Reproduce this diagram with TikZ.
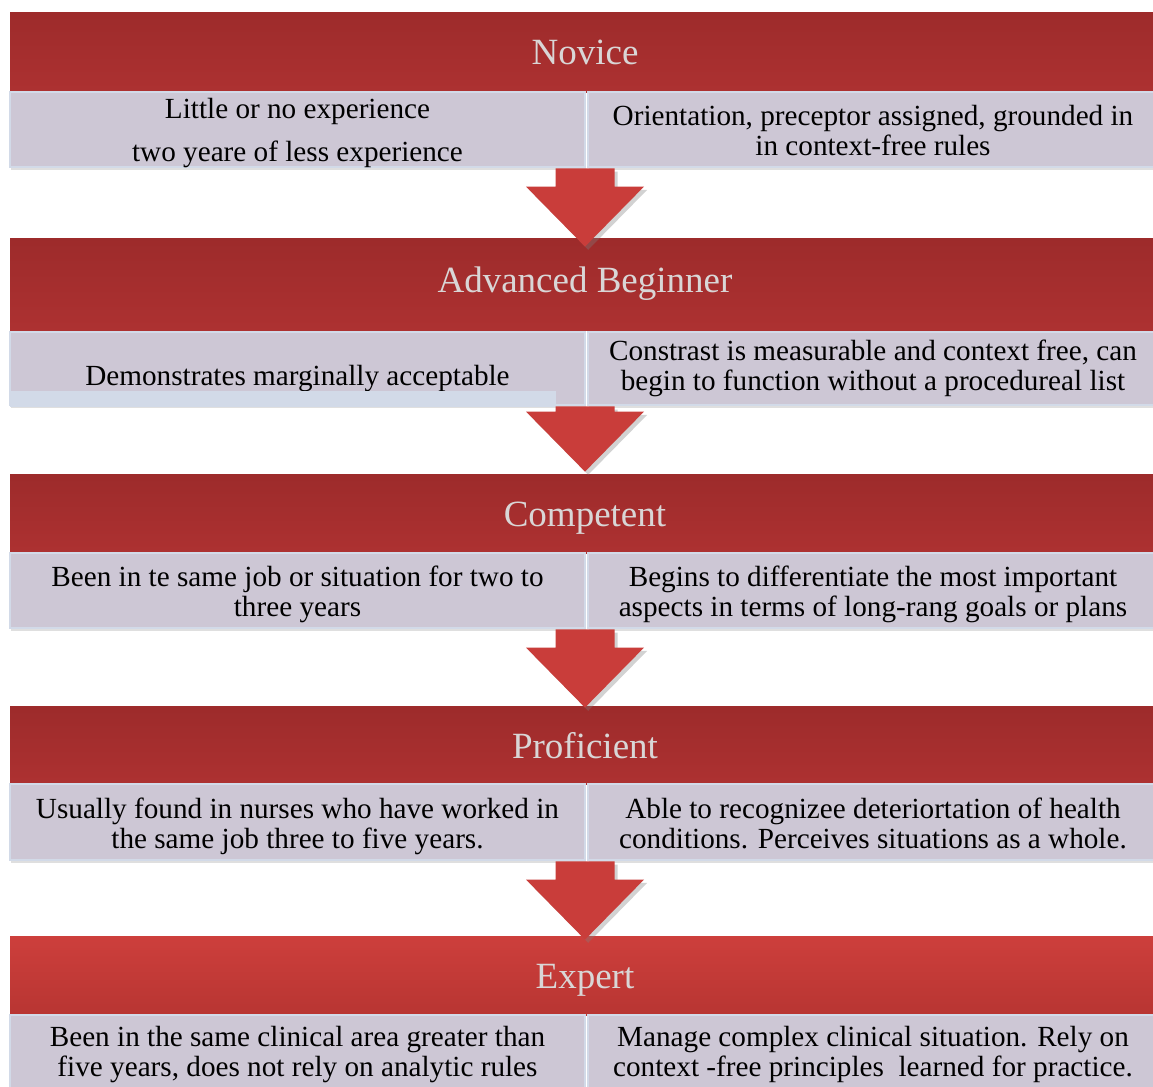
\documentclass[tikz,border=0pt]{standalone}
\usepackage{fontspec}
\setmainfont{Liberation Serif}
\usetikzlibrary{calc, shadows}

\definecolor{stagetext}{HTML}{D9D6D6}
\definecolor{cellfill}{HTML}{CDC7D5}
\definecolor{cellline}{HTML}{D2DAE8}
\definecolor{arrowred}{HTML}{C93D3A}
\definecolor{darktop}{HTML}{9D2B2B}
\definecolor{darkbot}{HTML}{AD3131}
\definecolor{brighttop}{HTML}{CD3F3C}
\definecolor{brightbot}{HTML}{B83532}

% cell text: lines in a tabular, moved down by #1 without changing the box
\newcommand{\celltext}[2][2.5pt]{\raisebox{-#1}[\height][\depth]{\begin{tabular}{@{}c@{}}#2\end{tabular}}}
% stage title moved down by #1
\newcommand{\stagetext}[2][0pt]{\raisebox{-#1}[\height][\depth]{#2}}

% block arrow: start at a body anchor, tip at a named coordinate
\newcommand{\stagearrow}[2]{%
  \fill[arrow] let \p1=(#1), \p2=(#2) in
    (\x2-14.75pt,\y1) -- (\x2-14.75pt,\y2+30pt) -- (\x2-29.5pt,\y2+30pt) -- (\p2)
    -- (\x2+29.5pt,\y2+30pt) -- (\x2+14.75pt,\y2+30pt) -- (\x2+14.75pt,\y1) -- cycle;}

\begin{document}
\begin{tikzpicture}[
    x=0.5pt, y=-0.5pt,
    stage/.style={rectangle, inner sep=0pt, minimum width=575pt, text=stagetext,
        top color=darktop, bottom color=darkbot, font=\fontsize{18.5}{20}\selectfont},
    lastage/.style={stage, top color=brighttop, bottom color=brightbot},
    lcell/.style={rectangle, draw=cellline, line width=1.3pt, fill=cellfill, inner sep=0pt,
        minimum width=287.5pt, font=\fontsize{14.6}{15}\selectfont,
        drop shadow={shadow xshift=0.4pt, shadow yshift=-1.4pt, opacity=0.25}},
    rcell/.style={lcell, minimum width=285pt},
    arrow/.style={fill=arrowred, drop shadow={shadow xshift=1.6pt, shadow yshift=-1.6pt, opacity=0.35}}
]
\useasboundingbox (0,0) rectangle (1153,1087);
\fill[white] (0,0) rectangle (1153,1087);

% Stage headers
\node[stage, minimum height=40pt] (s1) at (585,52) {Novice};
\node[stage, minimum height=46pt] (s2) at (585,284) {Advanced Beginner};
\node[stage, minimum height=39.5pt] (s3) at (585,513.5) {\stagetext[2.5pt]{Competent}};
\node[stage, minimum height=39pt] (s4) at (585,745) {\stagetext[0.5pt]{Proficient}};
\node[lastage, minimum height=39.5pt] (s5) at (585,975.5) {\stagetext[2.5pt]{Expert}};

% Body cells
\node[lcell, minimum height=37.5pt] (c1l) at (297.5,129.5)
    {\celltext[2pt]{Little or no experience\\[6.5pt] two yeare of less experience}};
\node[rcell, minimum height=37.5pt] (c1r) at (873,129.5)
    {\celltext{Orientation, preceptor assigned, grounded in\\ in context-free rules}};
\node[lcell, minimum height=36.5pt] (c2l) at (297.5,368.5)
    {\celltext[5.5pt]{Demonstrates marginally acceptable}};
\fill[cellline] (10,391) rectangle (556,407);
\node[rcell, minimum height=36.5pt] (c2r) at (873,368.5)
    {\celltext[0.5pt]{Constrast is measurable and context free, can\\ begin to function without a procedureal list}};
\node[lcell, minimum height=37.5pt] (c3l) at (297.5,590.5)
    {\celltext{Been in te same job or situation for two to\\ three years}};
\node[rcell, minimum height=37.5pt] (c3r) at (873,590.5)
    {\celltext{Begins to differentiate the most important\\ aspects in terms of long-rang goals or plans}};
\node[lcell, minimum height=38pt] (c4l) at (297.5,822)
    {\celltext{Usually found in nurses who have worked in\\ the same job three to five years.}};
\node[rcell, minimum height=38pt] (c4r) at (873,822)
    {\celltext{Able to recognizee deteriortation of health\\ conditions. Perceives situations as a whole.}};
\node[lcell, minimum height=37pt] (c5l) at (297.5,1052)
    {\celltext[1.5pt]{Been in the same clinical area greater than\\ five years, does not rely on analytic rules}};
\node[rcell, minimum height=37pt] (c5r) at (873,1052)
    {\celltext[1.5pt]{Manage complex clinical situation. Rely on\\ context -free principles\ \ learned for practice.}};

% Arrow tips
\coordinate (t1) at ($(s2.north)+(0,9)$);
\coordinate (t2) at ($(s3.north)+(0,-2)$);
\coordinate (t3) at ($(s4.north)+(0,2)$);
\coordinate (t4) at ($(s5.north)+(0,4)$);

% Arrows between stages
\stagearrow{c1l.south east}{t1}
\stagearrow{c2l.south east}{t2}
\stagearrow{c3l.south east}{t3}
\stagearrow{c4l.south east}{t4}
\end{tikzpicture}
\end{document}
